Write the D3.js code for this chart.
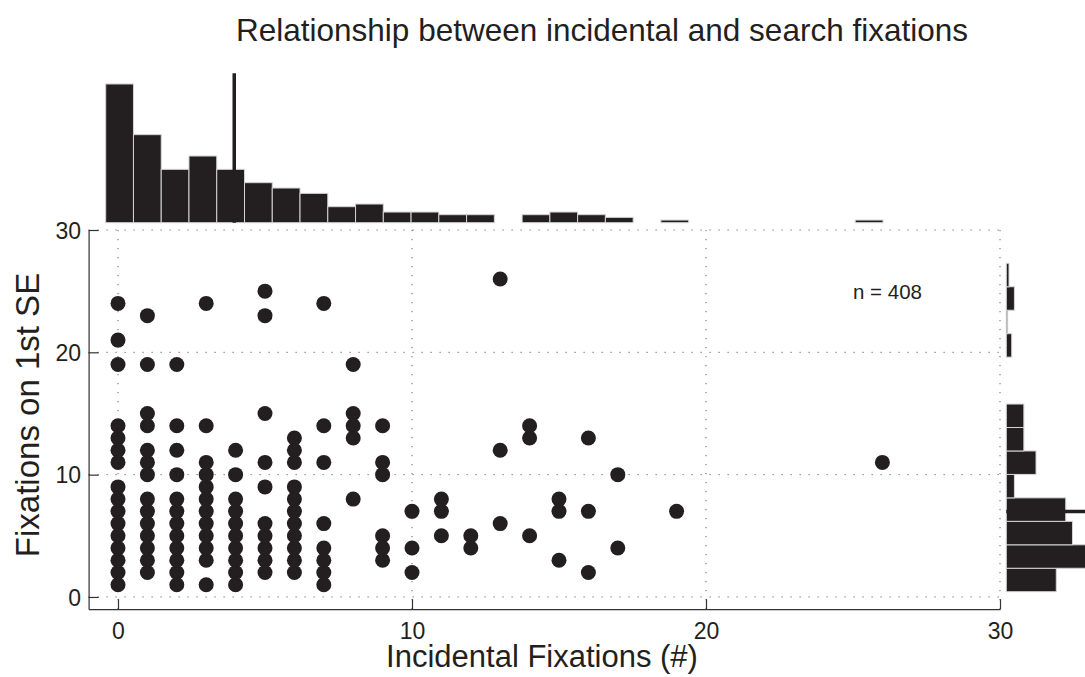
<!DOCTYPE html>
<html>
<head>
<meta charset="utf-8">
<script src="https://cdn.jsdelivr.net/npm/d3@7"></script>
<style>
  html, body { margin: 0; padding: 0; background: #fff; }
  svg { display: block; font-family: "Liberation Sans", Arial, Helvetica, sans-serif; }
</style>
</head>
<body>
<svg id="chart" width="1085" height="677"></svg>
<script>
// Paired observations: incidental fixations (x) and fixations on the 1st search element (y)
const incidental = [
  0,0,0,0,0,0,0,0,0,0,0,0,0,0,0,0,
  1,1,1,1,1,1,1,1,1,1,1,1,1,1,
  2,2,2,2,2,2,2,2,2,2,2,2,
  3,3,3,3,3,3,3,3,3,3,3,3,
  4,4,4,4,4,4,4,4,4,4,
  5,5,5,5,5,5,5,5,5,5,
  6,6,6,6,6,6,6,6,6,6,6,
  7,7,7,7,7,7,7,7,
  8,8,8,8,8,
  9,9,9,9,9,9,
  10,10,10,
  11,11,11,
  12,12,
  13,13,13,
  14,14,14,
  15,15,15,
  16,16,16,
  17,17,
  19,
  26
];
const searchFix = [
  1,2,3,4,5,6,7,8,9,11,12,13,14,19,21,24,
  2,3,4,5,6,7,8,10,11,12,14,15,19,23,
  1,2,3,4,5,6,7,8,10,12,14,19,
  1,3,4,5,6,7,8,9,10,11,14,24,
  1,2,3,4,5,6,7,8,10,12,
  2,3,4,5,6,9,11,15,23,25,
  2,3,4,5,6,7,8,9,11,12,13,
  1,2,3,4,6,11,14,24,
  8,13,14,15,19,
  3,4,5,10,11,14,
  2,4,7,
  5,7,8,
  4,5,
  6,12,26,
  5,13,14,
  3,7,8,
  2,7,13,
  4,10,
  7,
  11
];
const sampleSize = 408;

// Marginal histogram of incidental fixations: 28 bins over [0, 26]
const incRange = [0, 26];
const incCounts = [52,33,20,25,20,15,13,11,6,7,4,4,3,3,0,3,4,3,2,0,1,0,0,0,0,0,0,1];
const incCountMax = 56;
const incMean = 4.3;

// Marginal histogram of search fixations: 14 bins over [1, 26]
const seRange = [1, 26];
const seCounts = [37,70,49,44,6,22,13,13,0,0,4,1,6,2];
const seCountMax = 75;
const seMean = 7.1;

// Axis ticks
const xTicks = [0, 10, 20, 30];
const yTicks = [0, 10, 20, 30];

// Text
const titleText = "Relationship between incidental and search fixations";
const xLabel = "Incidental Fixations (#)";
const yLabel = "Fixations on 1st SE";

const ink = "#231f20";
const fontStack = "'Liberation Sans', Arial, Helvetica, sans-serif";
const svg = d3.select("#chart");

// ---------- main scatter axes ----------
const x = d3.scaleLinear().domain([-1, 30]).range([88.6, 1000]);
const y = d3.scaleLinear().domain([-1, 30]).range([609.2, 230]);

const grid = svg.append("g")
  .attr("stroke", "#444").attr("stroke-width", 1).attr("stroke-dasharray", "1 8");
grid.selectAll("line.gx").data(xTicks).join("line")
  .attr("x1", d => x(d)).attr("x2", d => x(d))
  .attr("y1", y.range()[0]).attr("y2", y.range()[1]);
grid.selectAll("line.gy").data(yTicks).join("line")
  .attr("y1", d => y(d)).attr("y2", d => y(d))
  .attr("x1", x.range()[0]).attr("x2", x.range()[1]);

// scatter points
svg.append("g").selectAll("circle")
  .data(incidental.map((v, i) => [v, searchFix[i]]))
  .join("circle")
  .attr("cx", d => x(d[0])).attr("cy", d => y(d[1]))
  .attr("r", 7.5).attr("fill", ink);

// axes (left and bottom only, ticks pointing inward)
const xAxis = d3.axisBottom(x).tickValues(xTicks).tickSizeInner(-10).tickSizeOuter(0).tickPadding(13.5);
const yAxis = d3.axisLeft(y).tickValues(yTicks).tickSizeInner(-10).tickSizeOuter(0).tickPadding(7.5);

const gx = svg.append("g").attr("transform", `translate(0,${y.range()[0]})`).call(xAxis);
const gy = svg.append("g").attr("transform", `translate(${x.range()[0]},0)`).call(yAxis);
[gx, gy].forEach(g => {
  g.attr("font-size", null).attr("font-family", null);
  g.select(".domain").attr("stroke", "#333").attr("stroke-width", 1.2);
  g.selectAll(".tick line").attr("stroke", "#333").attr("stroke-width", 1.2);
  g.selectAll(".tick text").attr("fill", ink)
    .attr("font-size", 23).attr("font-family", fontStack);
});
gx.selectAll(".tick text").attr("dy", "0.71em");
gy.selectAll(".tick text").attr("dy", "0.35em");

// n label
svg.append("text")
  .attr("x", x(25)).attr("y", y(24.35))
  .attr("fill", ink).attr("font-size", 20.5)
  .text(`n = ${sampleSize}`);

// ---------- top histogram ----------
const nInc = incCounts.length;
const incW = (incRange[1] - incRange[0]) / nInc;
const hx = d3.scaleLinear().domain(incRange).range([105.7, 883]);
const hy = d3.scaleLinear().domain([0, incCountMax]).range([222.7, 73.3]);

svg.append("g").selectAll("rect")
  .data(incCounts.map((c, i) => ({ c, i })).filter(d => d.c > 0))
  .join("rect")
  .attr("x", d => hx(incRange[0] + d.i * incW))
  .attr("width", d => hx(incRange[0] + (d.i + 1) * incW) - hx(incRange[0] + d.i * incW))
  .attr("y", d => hy(d.c))
  .attr("height", d => hy(0) - hy(d.c))
  .attr("fill", ink).attr("stroke", "#d4d4d4").attr("stroke-width", 1);

svg.append("line")
  .attr("x1", hx(incMean)).attr("x2", hx(incMean))
  .attr("y1", hy(0)).attr("y2", hy(incCountMax))
  .attr("stroke", ink).attr("stroke-width", 3.5);

// ---------- right histogram ----------
const nSe = seCounts.length;
const seW = (seRange[1] - seRange[0]) / nSe;
const vy = d3.scaleLinear().domain(seRange).range([591.7, 263.3]);
const vx = d3.scaleLinear().domain([0, seCountMax]).range([1006.3, 1107.6]);

svg.append("g").selectAll("rect")
  .data(seCounts.map((c, i) => ({ c, i })).filter(d => d.c > 0))
  .join("rect")
  .attr("y", d => vy(seRange[0] + (d.i + 1) * seW))
  .attr("height", d => vy(seRange[0] + d.i * seW) - vy(seRange[0] + (d.i + 1) * seW))
  .attr("x", vx(0))
  .attr("width", d => vx(d.c) - vx(0))
  .attr("fill", ink).attr("stroke", "#d4d4d4").attr("stroke-width", 1);

svg.append("line")
  .attr("y1", vy(seMean)).attr("y2", vy(seMean))
  .attr("x1", vx(0)).attr("x2", vx(seCountMax))
  .attr("stroke", ink).attr("stroke-width", 3.5);

// ---------- titles ----------
svg.append("text")
  .attr("x", 602).attr("y", 41)
  .attr("text-anchor", "middle").attr("fill", ink)
  .attr("font-size", 31.5)
  .text(titleText);

svg.append("text")
  .attr("x", 542).attr("y", 666.5)
  .attr("text-anchor", "middle").attr("fill", ink)
  .attr("font-size", 31)
  .text(xLabel);

svg.append("text")
  .attr("transform", "translate(38.5,415) rotate(-90)")
  .attr("text-anchor", "middle").attr("fill", ink)
  .attr("font-size", 33)
  .text(yLabel);
</script>
</body>
</html>
